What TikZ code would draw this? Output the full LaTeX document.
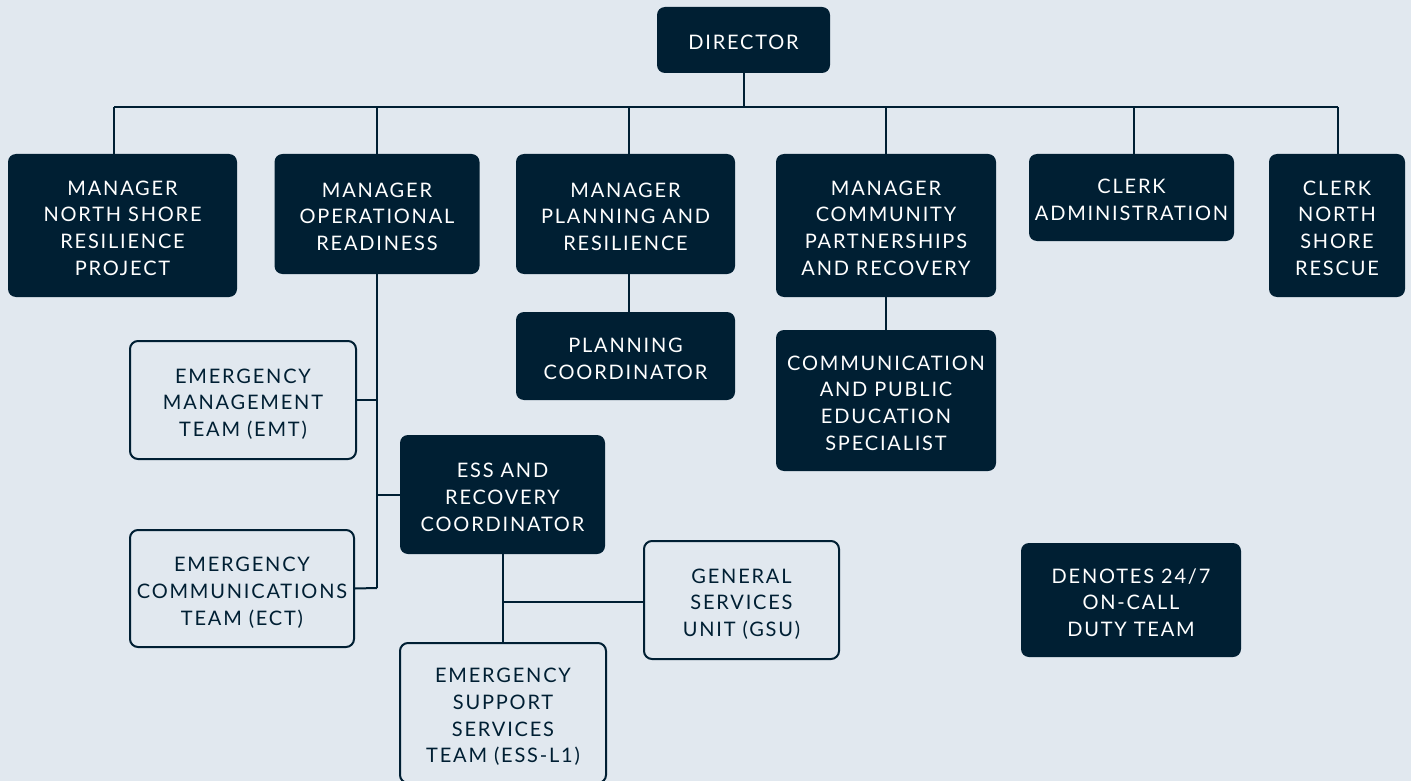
\documentclass[tikz,border=0pt]{standalone}
\usepackage{fontspec}
\setmainfont{Lato}[LetterSpace=9]
\definecolor{bg}{HTML}{E1E8EF}
\definecolor{dk}{HTML}{001F33}
\newcommand\tx[1]{\raisebox{-4.5pt}[\height][\depth]{\begin{tabular}{@{}c@{}}#1\end{tabular}}}
\begin{document}
\begin{tikzpicture}[x=1pt,y=-1pt,
  base/.style={rounded corners=8pt,inner sep=0pt,font=\fontsize{20}{26.7}\selectfont},
  darkbox/.style={base,fill=dk,text=white},
  lightbox/.style={base,draw=dk,line width=2pt,fill=bg,text=dk},
  wire/.style={draw=dk,line width=2pt}]
\fill[bg] (0,0) rectangle (1411,781);
\useasboundingbox (0,0) rectangle (1411,781);
\coordinate (busL) at (114,107);
\coordinate (busR) at (1338,107);
\coordinate (d1) at (114,107);
\coordinate (d3) at (629,107);
\coordinate (d5) at (1134,107);
\coordinate (ovb) at (377,588);
\coordinate (essj) at (503,602);

\node[darkbox,minimum width=173pt,minimum height=66pt] (director) at (743.5,40) {\tx{DIRECTOR}};
\node[darkbox,minimum width=229pt,minimum height=143pt] (m1) at (122.5,225.5) {\tx{MANAGER\\NORTH SHORE\\RESILIENCE\\PROJECT}};
\node[darkbox,minimum width=205pt,minimum height=120pt] (m2) at (377,214) {\tx{MANAGER\\OPERATIONAL\\READINESS}};
\node[darkbox,minimum width=219pt,minimum height=120pt] (m3) at (625.5,214) {\tx{MANAGER\\PLANNING AND\\RESILIENCE}};
\node[darkbox,minimum width=220pt,minimum height=143pt] (m4) at (886,225.5) {\tx{MANAGER\\COMMUNITY\\PARTNERSHIPS\\AND RECOVERY}};
\node[darkbox,minimum width=205pt,minimum height=87pt] (c1) at (1131.5,197.5) {\tx{CLERK\\ADMINISTRATION}};
\node[darkbox,minimum width=136pt,minimum height=143pt] (c2) at (1337,225.5) {\tx{CLERK\\NORTH\\SHORE\\RESCUE}};

\draw[wire] (director.south) -- (director.south |- busL);
\draw[wire] (busL) -- (busR);
\draw[wire] (d1) -- (d1 |- m1.north);
\draw[wire] (m2.north |- busL) -- (m2.north);
\draw[wire] (d3) -- (d3 |- m3.north);
\draw[wire] (m4.north |- busL) -- (m4.north);
\draw[wire] (d5) -- (d5 |- c1.north);
\draw[wire] (busR) -- (busR |- c2.north);

\node[darkbox,minimum width=219pt,minimum height=88pt] (pc) at (625.5,356) {\tx{PLANNING\\COORDINATOR}};
\node[darkbox,minimum width=220pt,minimum height=141pt] (cps) at (886,400.5) {\tx{COMMUNICATION\\AND PUBLIC\\EDUCATION\\SPECIALIST}};
\draw[wire] (d3 |- m3.south) -- (d3 |- pc.north);
\draw[wire] (m4.south) -- (cps.north);

\node[lightbox,minimum width=226pt,minimum height=118pt] (emt) at (243,400) {\tx{EMERGENCY\\MANAGEMENT\\TEAM (EMT)}};
\node[darkbox,minimum width=205pt,minimum height=119pt] (ess) at (502.5,494.5) {\tx{ESS AND\\RECOVERY\\COORDINATOR}};
\node[lightbox,minimum width=224pt,minimum height=117pt] (ect) at (242,588.5) {\tx{EMERGENCY\\COMMUNICATIONS\\TEAM (ECT)}};
\node[lightbox,minimum width=195pt,minimum height=118pt] (gsu) at (741.5,600) {\tx{GENERAL\\SERVICES\\UNIT (GSU)}};
\node[lightbox,minimum width=206pt,minimum height=140pt] (essl) at (503,713) {\tx{EMERGENCY\\SUPPORT\\SERVICES\\TEAM (ESS-L1)}};
\node[darkbox,minimum width=220pt,minimum height=114pt] (den) at (1131,600) {\tx{DENOTES 24/7\\ON-CALL\\DUTY TEAM}};

\draw[wire] (m2.south) -- (ovb);
\draw[wire] (emt.east) -- (emt.east -| ovb);
\draw[wire] (ess.west) -- (ess.west -| ovb);
\draw[wire] (ect.east) -- (ovb);
\draw[wire] (ess.south -| essj) -- (essl.north -| essj);
\draw[wire] (essj) -- (gsu.west |- essj);
\end{tikzpicture}
\end{document}
